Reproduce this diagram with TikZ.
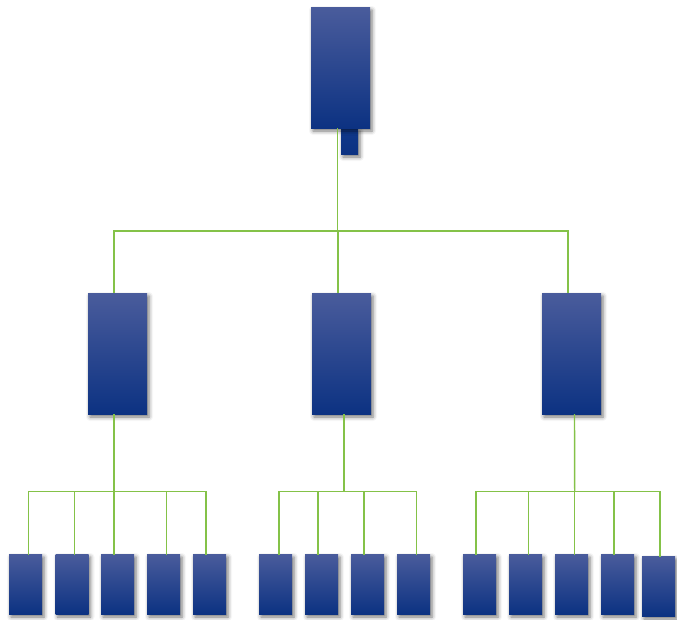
\documentclass[tikz,border=0pt]{standalone}
\usetikzlibrary{shadows.blur}
\definecolor{boxtop}{RGB}{74,92,156}
\definecolor{boxmid}{RGB}{16,56,138}
\definecolor{boxbot}{RGB}{12,50,130}
\definecolor{wiregreen}{RGB}{132,194,72}

\begin{document}
\begin{tikzpicture}[x=1pt, y=-1pt,
    every node/.style = {rectangle, inner sep=0mm, outer sep=0mm,
                         top color=boxtop, middle color=boxmid, bottom color=boxbot,
                         blur shadow={shadow xshift=2pt, shadow yshift=-3pt,
                                      shadow blur radius=4pt, shadow opacity=55}},
          bigbox/.style = {minimum width=59pt, minimum height=121pt},
        smallbox/.style = {minimum width=33pt, minimum height=60pt},
            stub/.style = {minimum width=17pt, minimum height=26pt, top color=boxmid},
            wire/.style = {draw=wiregreen, line width=1.4pt}]%
  \useasboundingbox (0,0) rectangle (677,619);
  % top level
  \node [stub]    (tab) at (349.5,141) {};
  \node [bigbox]  (top) at (340.5,67.5) {};
  % 2nd level
  \node [bigbox]  (m1)  at (117.5,353.5) {};
  \node [bigbox]  (m2)  at (341.5,353.5) {};
  \node [bigbox]  (m3)  at (571.5,353.5) {};
  % 3rd level, left group
  \node [smallbox] (b11) at (25.5,584) {};
  \node [smallbox] (b12) at (72,584) {};
  \node [smallbox] (b13) at (117.5,584) {};
  \node [smallbox] (b14) at (163.5,584) {};
  \node [smallbox] (b15) at (209.5,584) {};
  % 3rd level, middle group
  \node [smallbox] (b21) at (275.5,584) {};
  \node [smallbox] (b22) at (321.5,584) {};
  \node [smallbox] (b23) at (367.5,584) {};
  \node [smallbox] (b24) at (413.5,584) {};
  % 3rd level, right group
  \node [smallbox] (b31) at (479.5,584) {};
  \node [smallbox] (b32) at (525.5,584) {};
  \node [smallbox] (b33) at (571.5,584) {};
  \node [smallbox] (b34) at (617.5,584) {};
  \node [smallbox] (b35) at (658.5,586) {};
  % connectors
  \coordinate (hub) at (337.5,231);
  \draw [wire] ([xshift=-3pt]top.south) -- (hub);
  \draw [wire] ([xshift=-3.5pt]m1.north) |- (hub) -| ([xshift=-3.5pt]m3.north);
  \draw [wire] ([xshift=-3.5pt]m2.north) -- ([xshift=-3.5pt]m2.north |- hub);
  \coordinate (g1) at (114,491.7);
  \coordinate (g2) at (344,491.7);
  \coordinate (g3) at (574.7,491.7);
  \draw [wire] ([xshift=-3.5pt]m1.south) -- (g1);
  \draw [wire] ([xshift=2.5pt]m2.south) -- (g2);
  \draw [wire] ([xshift=3pt]m3.south) -- (g3);
  \foreach \i/\dx in {1/3.2, 2/2.7, 3/-3.5, 4/3.2, 5/-3.5}
    \draw [wire] ([xshift=\dx pt, yshift=-1.3pt]b1\i.north) |- (g1);
  \foreach \i/\dx in {1/3.5, 2/-3.5, 3/-3.5, 4/3.2}
    \draw [wire] ([xshift=\dx pt, yshift=-1.3pt]b2\i.north) |- (g2);
  \foreach \i/\dx in {1/-3.5, 2/3.2, 3/3.2, 4/-3.5, 5/1.5}
    \draw [wire] ([xshift=\dx pt, yshift=-1.3pt]b3\i.north) |- (g3);
\end{tikzpicture}
\end{document}
